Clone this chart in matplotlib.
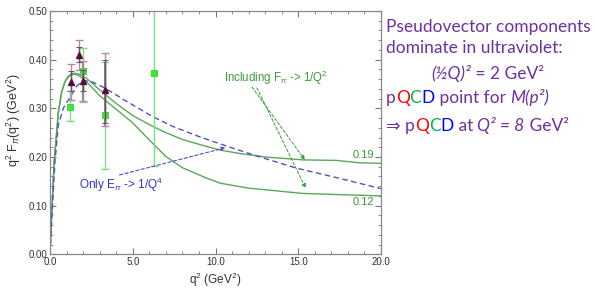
import matplotlib
matplotlib.use('Agg')
import matplotlib.pyplot as plt
from matplotlib.ticker import MultipleLocator, FormatStrFormatter

plt.rcParams['font.family'] = ['Liberation Sans', 'DejaVu Sans']
plt.rcParams['mathtext.fontset'] = 'custom'
plt.rcParams['mathtext.rm'] = 'Liberation Sans'
plt.rcParams['mathtext.it'] = 'Liberation Sans:italic'

# curves
g1_x = [0, 0.1, 0.25, 0.5, 0.7, 0.9, 1.1, 1.3, 1.5, 1.8, 2.2, 3.0, 4.0, 5.0, 6.2, 7.0, 8.0, 9.0, 10.3, 11.5, 13.0, 15.3, 17.3, 18.7, 20]
g1_y = [0, 0.08, 0.19, 0.29, 0.333, 0.355, 0.366, 0.371, 0.372, 0.370, 0.362, 0.338, 0.310, 0.285, 0.263, 0.250, 0.236, 0.226, 0.214, 0.207, 0.200, 0.194, 0.193, 0.188, 0.187]

g2_x = [0, 0.1, 0.25, 0.5, 0.7, 0.9, 1.1, 1.3, 1.5, 1.8, 2.2, 3.0, 4.0, 5.0, 6.0, 7.0, 8.0, 9.5, 10.3, 12.0, 15.3, 20]
g2_y = [0, 0.08, 0.19, 0.29, 0.333, 0.354, 0.364, 0.369, 0.370, 0.366, 0.355, 0.326, 0.298, 0.270, 0.235, 0.201, 0.178, 0.156, 0.146, 0.136, 0.125, 0.120]

b_x = [0, 0.1, 0.3, 0.5, 0.8, 1.2, 1.6, 2.0, 2.5, 3.3, 4.5, 5.5, 6.2, 7.4, 9.0, 10.7, 12.5, 14.9, 17.5, 20]
b_y = [0, 0.07, 0.19, 0.265, 0.300, 0.322, 0.345, 0.357, 0.355, 0.342, 0.317, 0.297, 0.283, 0.263, 0.242, 0.222, 0.202, 0.177, 0.156, 0.135]

# data points
tri_x = [1.27, 1.75, 2.0, 3.34]
tri_y = [0.355, 0.410, 0.357, 0.338]
tri_hi = [0.392, 0.441, 0.398, 0.414]
tri_lo = [0.317, 0.378, 0.316, 0.263]
tri_in_hi = [0.376, 0.425, 0.378, 0.40]
tri_in_lo = [0.335, 0.395, 0.336, 0.27]

sq_x = [1.21, 1.97, 3.34, 6.28]
sq_y = [0.302, 0.376, 0.287, 0.373]
sq_hi = [0.335, 0.424, 0.396, 0.60]
sq_lo = [0.273, 0.314, 0.176, 0.182]

fig = plt.figure(figsize=(5.95, 2.91), dpi=100)
ax = fig.add_axes([50/595, 1-254.3/291, 331/595, 243.3/291])

green = '#5aa85a'
blue = '#5050c8'

ax.plot(g1_x, g1_y, color=green, lw=1.0)
ax.plot(g2_x, g2_y, color=green, lw=1.0)
ax.plot(b_x, b_y, color=blue, lw=1.0, dashes=(4, 2.5))

# green squares
ax.errorbar(sq_x, sq_y,
            yerr=[[y - l for y, l in zip(sq_y, sq_lo)], [h - y for y, h in zip(sq_y, sq_hi)]],
            fmt='none', ecolor='#7ee07e', elinewidth=1.0, capsize=3, capthick=1.0)
ax.errorbar(sq_x[1:3], sq_y[1:3],
            yerr=[[sq_y[1] - 0.316, sq_y[2] - 0.263], [0.398 - sq_y[1], 0.396 - sq_y[2]]],
            fmt='none', ecolor='#4a8a4a', elinewidth=1.2, capsize=0)
ax.plot(sq_x, sq_y, 's', color='#33ee33', ms=4.5, mec='#22cc22', mew=0.5)

# triangles
ax.errorbar(tri_x, tri_y,
            yerr=[[y - l for y, l in zip(tri_y, tri_lo)], [h - y for y, h in zip(tri_y, tri_hi)]],
            fmt='none', ecolor='#b88aa8', elinewidth=1.0, capsize=3, capthick=1.0)
ax.errorbar(tri_x, tri_y,
            yerr=[[y - l for y, l in zip(tri_y, tri_in_lo)], [h - y for y, h in zip(tri_y, tri_in_hi)]],
            fmt='none', ecolor='#7a4a6a', elinewidth=1.0, capsize=2.5, capthick=0.8)
ax.plot(tri_x, tri_y, '^', color='#5c0b40', ms=5)

ax.set_xlim(0, 20)
ax.set_ylim(0, 0.5)
ax.xaxis.set_major_locator(MultipleLocator(5))
ax.xaxis.set_minor_locator(MultipleLocator(1))
ax.yaxis.set_major_locator(MultipleLocator(0.1))
ax.yaxis.set_minor_locator(MultipleLocator(0.02))
ax.xaxis.set_major_formatter(FormatStrFormatter('%.1f'))
ax.yaxis.set_major_formatter(FormatStrFormatter('%.2f'))
ax.tick_params(which='both', direction='in', top=True, right=True, color='#777777',
               labelsize=7, labelcolor='#333333', pad=2)
ax.tick_params(which='major', length=4, width=0.8)
ax.tick_params(which='minor', length=2, width=0.6)
for s in ax.spines.values():
    s.set_color('#888888')
    s.set_linewidth(0.9)

ax.set_xlabel('q$^2$ (GeV$^2$)', fontsize=8.5, color='#333333', labelpad=3)
ax.set_ylabel('q$^2$ F$_\\pi$(q$^2$) (GeV$^2$)', fontsize=9, color='#333333')
ax.yaxis.set_label_coords(-0.083, 0.55)

# annotations
tgreen = '#3c9a3c'
ax.text(13.65, 0.362, 'Including F$_\\pi$ -> 1/Q$^2$', color=tgreen, fontsize=8.3,
        ha='center', va='center')
for start, end in [((12.2, 0.344), (15.4, 0.194)), ((12.5, 0.342), (15.45, 0.136))]:
    ax.annotate('', xy=end, xytext=start,
                arrowprops=dict(arrowstyle='-|>', color=tgreen, lw=0.7, ls=(0, (3, 2)),
                                mutation_scale=6, shrinkA=0, shrinkB=0))
ax.text(4.3, 0.143, 'Only E$_\\pi$ -> 1/Q$^4$', color='#3030d0', fontsize=8.5,
        ha='center', va='center')
ax.annotate('', xy=(10.6, 0.219), xytext=(4.2, 0.163),
            arrowprops=dict(arrowstyle='-|>', color=blue, lw=0.8, ls=(0, (3, 2)),
                            mutation_scale=6, shrinkA=0, shrinkB=0))
ax.text(19.6, 0.205, '0.19', color=tgreen, fontsize=8, ha='right', va='center')
ax.text(19.6, 0.108, '0.12', color=tgreen, fontsize=8, ha='right', va='center')

# right-hand text, written piece by piece
purple = '#7030a0'
red = '#ff0000'
cgreen = '#00b050'
cblue = '#0000ff'
fs = 12.5
fam = ['Lato', 'DejaVu Sans']

lines = [
    (386, 31.7, [('Pseudovector components', purple, 'normal')]),
    (386, 53.3, [('dominate in ultraviolet:', purple, 'normal')]),
    (431, 79.3, [('(½Q)²', purple, 'italic'), (' = 2 GeV²', purple, 'normal')]),
    (386, 103.3, [('p', purple, 'normal'), ('Q', red, 'normal'), ('C', cgreen, 'normal'),
                  ('D', cblue, 'normal'), (' point for ', purple, 'normal'),
                  ('M(p²)', purple, 'italic')]),
    (386, 130.7, [('⇒ p', purple, 'normal'), ('Q', red, 'normal'), ('C', cgreen, 'normal'),
                  ('D', cblue, 'normal'), (' at ', purple, 'normal'),
                  ('Q² = 8', purple, 'italic'), (' GeV²', purple, 'normal')]),
]

renderer = fig.canvas.get_renderer()
for x0, y0, parts in lines:
    x = x0
    for s, c, st in parts:
        t = fig.text(x / 595, 1 - y0 / 291, s, color=c, fontsize=fs, style=st,
                     family=fam, ha='left', va='baseline')
        bb = t.get_window_extent(renderer)
        x += bb.width

fig.savefig('out.png', dpi=100)
